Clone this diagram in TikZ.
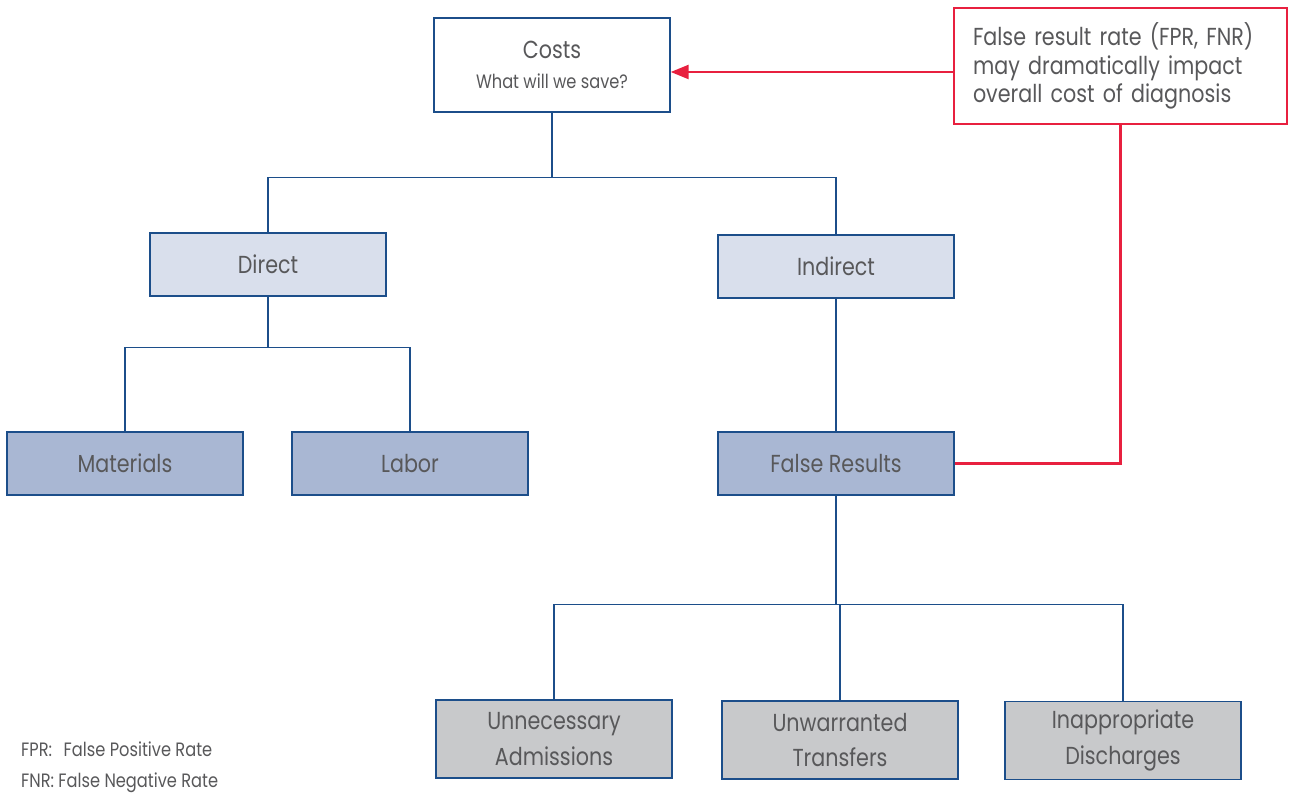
\documentclass[tikz,border=0pt]{standalone}
\usepackage{fontspec}
\setmainfont[FakeStretch=0.84]{Poppins}
\usetikzlibrary{positioning,arrows.meta,calc}
\definecolor{treeblue}{RGB}{28,78,138}
\definecolor{lightfill}{RGB}{217,223,236}
\definecolor{midfill}{RGB}{169,183,211}
\definecolor{grayfill}{RGB}{200,201,203}
\definecolor{alertred}{RGB}{232,32,63}
\definecolor{textgray}{RGB}{88,88,90}
\tikzset{
  box/.style   = {rectangle, draw=treeblue, line width=0.8pt,
                  minimum width=4.72cm, minimum height=1.26cm,
                  align=center, text=textgray, font=\fontsize{14}{17}\selectfont},
  top/.style   = {box, fill=white, minimum height=1.88cm},
  lvl1/.style  = {box, fill=lightfill},
  lvl2/.style  = {box, fill=midfill},
  leaf/.style  = {box, fill=grayfill, minimum height=1.56cm,
                  font=\fontsize{14}{20}\selectfont},
  note/.style  = {rectangle, draw=alertred, line width=1.4pt, fill=white,
                  minimum width=6.66cm, minimum height=2.32cm,
                  text width=5.9cm, align=left, text=textgray,
                  font=\fontsize{14}{16.2}\selectfont},
  link/.style  = {draw=treeblue, line width=0.8pt},
  redlink/.style = {draw=alertred, line width=1.4pt},
  foot/.style  = {anchor=west, text=textgray, font=\fontsize{11}{13}\selectfont}
}
\begin{document}
\begin{tikzpicture}
\useasboundingbox (0,0) rectangle (25.78,-15.86);

% --- Boxes -------------------------------------------------------
\node[top]  (costs)      at (11.04,-1.30) {Costs\\[0pt]{\fontsize{11}{13}\selectfont What will we save?}};
\node[lvl1] (direct)     at (5.36,-5.29)  {Direct};
\node[lvl1] (indirect)   at (16.72,-5.33) {Indirect};
\node[lvl2] (materials)  at (2.50,-9.27)  {Materials};
\node[lvl2] (labor)      at (8.20,-9.27)  {Labor};
\node[lvl2] (falseres)   at (16.72,-9.27) {False Results};
\node[leaf] (admissions) at (11.08,-14.78) {Unnecessary\\Admissions};
\node[leaf] (transfers)  at (16.80,-14.80) {Unwarranted\\Transfers};
\node[leaf] (discharges) at (22.46,-14.81) {Inappropriate\\Discharges};
\node[note] (note)       at (22.41,-1.32) {False result rate (FPR, FNR)\\may dramatically impact\\overall cost of diagnosis};

% --- Verbindungen ------------------------------------------------
\draw[link] (costs.south) -- ++(0,-1.30) coordinate (j1);
\draw[link] (j1) -| (direct.north);
\draw[link] (j1) -| (indirect.north);
\draw[link] (direct.south) -- ++(0,-1.02) coordinate (j2);
\draw[link] (j2) -| (materials.north);
\draw[link] (j2) -| (labor.north);
\draw[link] (indirect.south) -- (falseres.north);
\draw[link] (falseres.south) -- ++(0,-2.18) coordinate (j3);
\draw[link] (j3) -| (admissions.north);
\draw[link] (j3) -| (transfers.north);
\draw[link] (j3) -| (discharges.north);

% --- Hinweis -----------------------------------------------------
\draw[redlink, -{Triangle[length=3.6mm,width=2.8mm]}]
  ([yshift=-0.12cm]note.west) -- ([yshift=-0.12cm]note.west -| costs.east);
\draw[redlink] (falseres.east) -| (note.south);

% --- Legende -----------------------------------------------------
\node[foot] (fpr) at (0.30,-14.98) {FPR:\hspace{0.6em}False Positive Rate};
\node[foot] (fnr) at (0.30,-15.66) {FNR: False Negative Rate};
\end{tikzpicture}
\end{document}
